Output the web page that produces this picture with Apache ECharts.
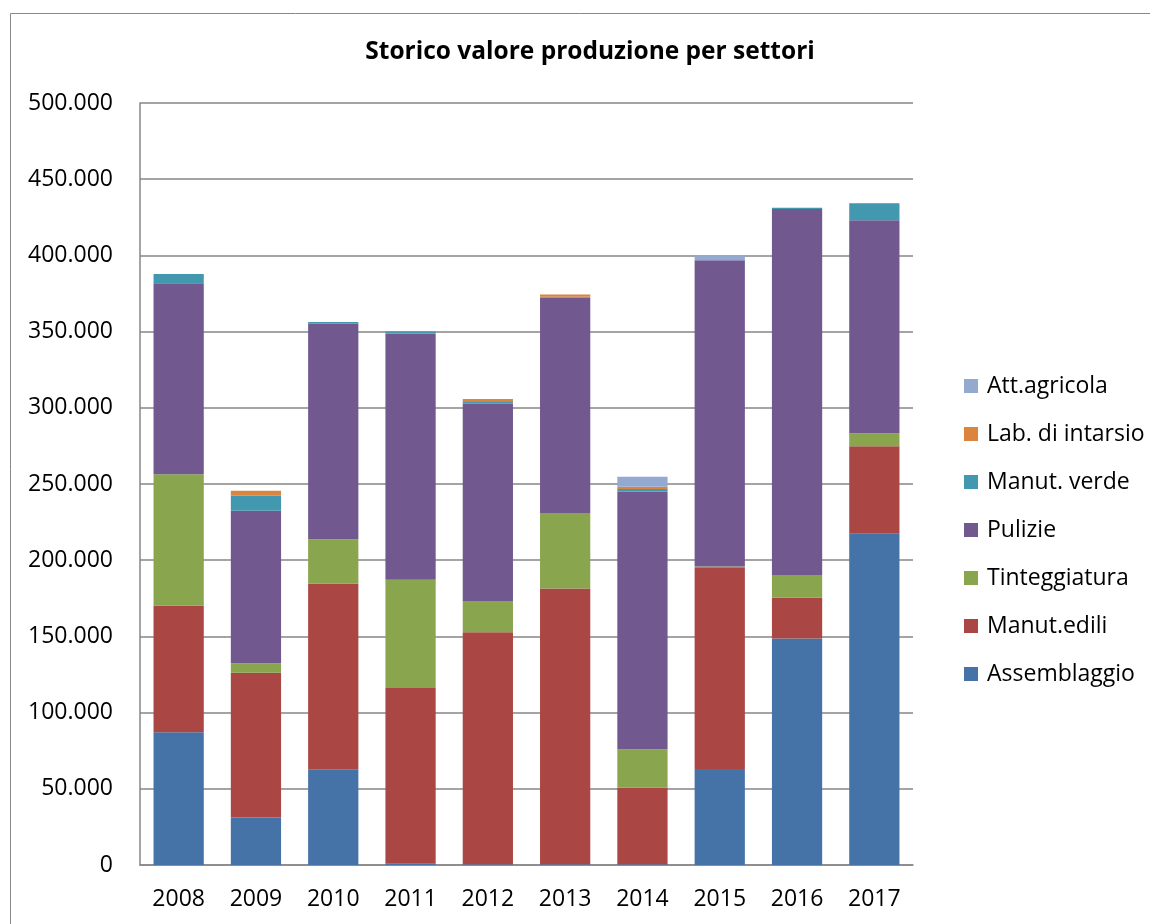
<!DOCTYPE html>
<html>
<head>
<meta charset="utf-8">
<script src="https://cdn.jsdelivr.net/npm/echarts@6/dist/echarts.min.js"></script>
<style>
  html, body { margin: 0; padding: 0; background: #fff; }
  #chart { width: 1150px; height: 924px; }
</style>
</head>
<body>
<div id="chart"></div>
<script>
// dati
const years = ['2008', '2009', '2010', '2011', '2012', '2013', '2014', '2015', '2016', '2017'];
const assemblaggio = [87100, 31100, 62800, 800, 500, 500, 500, 63000, 148700, 217400];
const manutEdili = [83100, 95100, 121800, 115300, 152200, 181000, 50200, 132300, 26700, 57300];
const tinteggiatura = [86200, 6100, 29100, 71100, 20500, 49500, 25200, 500, 14900, 8600];
const pulizie = [125300, 100200, 141500, 161500, 129500, 141300, 169100, 201000, 240100, 139700];
const manutVerde = [6100, 9800, 1100, 1300, 1100, 500, 1700, 0, 900, 11200];
const labIntarsio = [0, 3300, 0, 0, 2000, 1500, 1500, 0, 0, 0];
const attAgricola = [0, 0, 0, 0, 0, 0, 6600, 3500, 0, 0];
const legendOrder = ['Att.agricola', 'Lab. di intarsio', 'Manut. verde', 'Pulizie', 'Tinteggiatura', 'Manut.edili', 'Assemblaggio'];

const chart = echarts.init(document.getElementById('chart'));
const font = '"Open Sans", "Noto Sans", sans-serif';

// formato italiano con punto per le migliaia
const fmt = (v) => String(v).replace(/\B(?=(\d{3})+(?!\d))/g, '.');

const makeSeries = (name, data, color) => ({
  name: name,
  type: 'bar',
  stack: 'tot',
  data: data,
  barWidth: '65%',
  itemStyle: { color: color },
  emphasis: { disabled: true },
});

const option = {
  backgroundColor: '#fff',
  animation: false,
  textStyle: { fontFamily: font },
  title: {
    text: 'Storico valore produzione per settori',
    left: 585,
    textAlign: 'center',
    top: 35,
    textStyle: { fontSize: 24.5, fontWeight: 'bold', color: '#000', fontFamily: font },
  },
  legend: {
    orient: 'vertical',
    left: 959,
    top: 367,
    itemWidth: 14,
    itemHeight: 14,
    itemGap: 20,
    icon: 'rect',
    data: legendOrder,
    textStyle: { fontSize: 23, color: '#000', lineHeight: 28, padding: [0, 0, 0, 4] },
  },
  graphic: [
    {
      type: 'rect',
      shape: { x: 10.5, y: 13.5, width: 1300, height: 1000 },
      style: { fill: 'none', stroke: '#888', lineWidth: 1 },
      silent: true,
    },
  ],
  grid: { left: 140, right: 237, top: 103, bottom: 59 },
  xAxis: {
    type: 'category',
    data: years,
    axisLine: { lineStyle: { color: '#868686', width: 1.5 } },
    axisTick: { show: false },
    axisLabel: { fontSize: 23, color: '#000', margin: 23 },
  },
  yAxis: {
    type: 'value',
    min: 0,
    max: 500000,
    interval: 50000,
    axisLine: { show: true, lineStyle: { color: '#868686', width: 1.5 } },
    axisTick: { show: false },
    splitLine: { lineStyle: { color: '#868686', width: 1.5 } },
    axisLabel: { fontSize: 23, color: '#000', margin: 27, formatter: fmt },
  },
  series: [
    makeSeries('Assemblaggio', assemblaggio, '#4572A7'),
    makeSeries('Manut.edili', manutEdili, '#AA4643'),
    makeSeries('Tinteggiatura', tinteggiatura, '#89A54E'),
    makeSeries('Pulizie', pulizie, '#71588F'),
    makeSeries('Manut. verde', manutVerde, '#4198AF'),
    makeSeries('Lab. di intarsio', labIntarsio, '#DB843D'),
    makeSeries('Att.agricola', attAgricola, '#93A9CF'),
  ],
};

chart.setOption(option);
</script>
</body>
</html>
